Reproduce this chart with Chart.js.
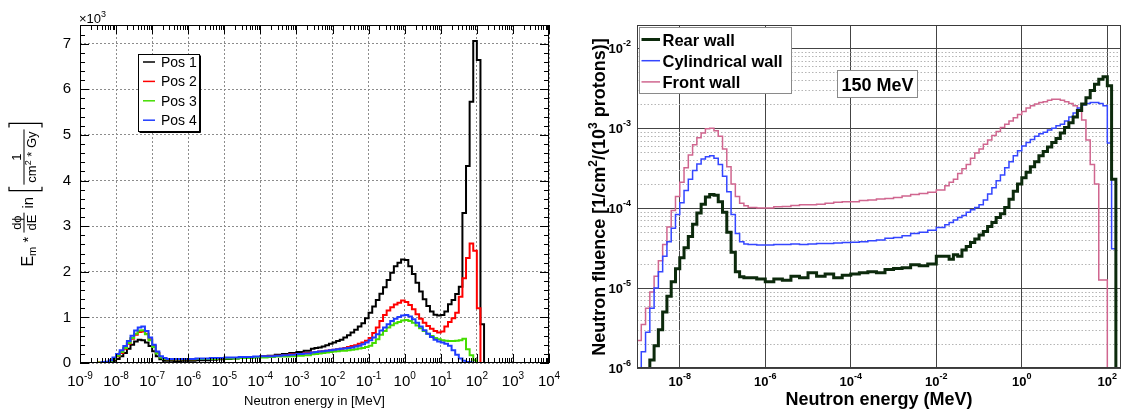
<!DOCTYPE html>
<html>
<head>
<meta charset="utf-8">
<script src="https://cdn.jsdelivr.net/npm/chart.js@4.4.1/dist/chart.umd.min.js"></script>
<style>
  html, body { margin: 0; padding: 0; background: #fff; }
  #wrap { position: relative; width: 1122px; height: 410px; overflow: hidden; }
  #leftChart { position: absolute; left: 0; top: 0; }
  #rightChart { position: absolute; left: 570px; top: 0; }
</style>
</head>
<body>
<div id="wrap">
  <canvas id="leftChart" width="570" height="410"></canvas>
  <canvas id="rightChart" width="552" height="410"></canvas>
</div>
<script>
const FONT = '"Liberation Sans", Arial, Helvetica, sans-serif';

// ---------- left panel: Em * dphi/dE per position (units of 10^3) ----------
// bin edges, as log10(E / MeV)
const LEFT_EDGES = [
  -9, -8.5,
  -8.4, -8.3, -8.2, -8.1, -8.0, -7.9, -7.8, -7.7, -7.6, -7.5,
  -7.4, -7.3, -7.2, -7.1, -7.0, -6.9, -6.8, -6.7, -6.6, -6.5,
  -6.4, -6.2, -6.0, -5.8, -5.6, -5.4, -5.2, -5.0, -4.8, -4.6,
  -4.4, -4.2, -4.0, -3.8, -3.6, -3.4, -3.2, -3.0, -2.8,
  -2.6, -2.5, -2.4, -2.3, -2.2, -2.1, -2.0, -1.9, -1.8, -1.7,
  -1.6, -1.5, -1.4, -1.3, -1.2, -1.1, -1.0, -0.9, -0.8, -0.7,
  -0.6, -0.5, -0.4, -0.3, -0.2, -0.1, 0.0, 0.1, 0.2, 0.3,
  0.4, 0.5, 0.6, 0.7, 0.8, 0.9, 1.0, 1.1, 1.2, 1.3,
  1.4, 1.5, 1.6, 1.7, 1.8, 1.9, 2.0, 2.1, 2.2, 4
];
const POS_LABELS = ['Pos 1', 'Pos 2', 'Pos 3', 'Pos 4'];
const POS1 = [
  0, 0,
  0.00, 0.01, 0.02, 0.05, 0.09, 0.15, 0.22, 0.31, 0.40, 0.47,
  0.51, 0.50, 0.45, 0.37, 0.26, 0.15, 0.08, 0.05, 0.05, 0.05,
  0.04, 0.05, 0.05, 0.06, 0.06, 0.07, 0.08, 0.09, 0.10, 0.11,
  0.12, 0.13, 0.15, 0.16, 0.18, 0.20, 0.22, 0.24, 0.27,
  0.31, 0.33, 0.34, 0.36, 0.39, 0.42, 0.45, 0.48, 0.51, 0.56,
  0.61, 0.67, 0.73, 0.80, 0.87, 0.98, 1.10, 1.24, 1.38, 1.52,
  1.66, 1.82, 1.98, 2.12, 2.20, 2.27, 2.26, 2.12, 1.95, 1.76,
  1.57, 1.40, 1.25, 1.13, 1.06, 1.04, 1.05, 1.13, 1.29, 1.38,
  1.51, 1.67, 3.29, 4.32, 5.73, 7.06, 6.64, 0.85, 0
];
const POS2 = [
  0, 0.01,
  0.01, 0.02, 0.04, 0.08, 0.15, 0.22, 0.31, 0.42, 0.53, 0.62,
  0.68, 0.69, 0.64, 0.52, 0.37, 0.22, 0.13, 0.09, 0.08, 0.08,
  0.08, 0.08, 0.08, 0.09, 0.09, 0.10, 0.10, 0.11, 0.11, 0.12,
  0.13, 0.13, 0.14, 0.15, 0.16, 0.17, 0.19, 0.20, 0.22,
  0.23, 0.24, 0.25, 0.26, 0.27, 0.28, 0.29, 0.30, 0.31, 0.33,
  0.35, 0.37, 0.39, 0.42, 0.45, 0.49, 0.55, 0.66, 0.78, 0.92,
  1.05, 1.15, 1.22, 1.28, 1.32, 1.37, 1.34, 1.27, 1.18, 1.07,
  0.97, 0.88, 0.81, 0.75, 0.70, 0.67, 0.69, 0.80, 0.90, 0.98,
  1.10, 1.45, 1.86, 2.30, 2.62, 2.46, 1.20, 0, 0
];
const POS3 = [
  0, 0.01,
  0.01, 0.02, 0.04, 0.09, 0.16, 0.24, 0.33, 0.44, 0.55, 0.64,
  0.71, 0.72, 0.63, 0.50, 0.35, 0.21, 0.12, 0.09, 0.08, 0.08,
  0.08, 0.08, 0.08, 0.09, 0.09, 0.09, 0.10, 0.10, 0.10, 0.11,
  0.11, 0.12, 0.12, 0.13, 0.14, 0.14, 0.15, 0.16, 0.17,
  0.19, 0.20, 0.21, 0.22, 0.23, 0.24, 0.25, 0.26, 0.27, 0.27,
  0.28, 0.29, 0.30, 0.32, 0.33, 0.35, 0.38, 0.44, 0.52, 0.62,
  0.70, 0.78, 0.83, 0.87, 0.90, 0.93, 0.94, 0.92, 0.88, 0.82,
  0.76, 0.70, 0.64, 0.59, 0.55, 0.52, 0.50, 0.49, 0.48, 0.48,
  0.49, 0.50, 0.53, 0.30, 0.17, 0.06, 0, 0, 0
];
const POS4 = [
  0, 0,
  0.02, 0.03, 0.06, 0.12, 0.20, 0.28, 0.37, 0.48, 0.60, 0.71,
  0.78, 0.80, 0.70, 0.56, 0.40, 0.25, 0.15, 0.11, 0.09, 0.09,
  0.09, 0.09, 0.09, 0.10, 0.10, 0.11, 0.11, 0.12, 0.12, 0.13,
  0.13, 0.14, 0.15, 0.15, 0.16, 0.17, 0.18, 0.20, 0.21,
  0.23, 0.24, 0.25, 0.26, 0.27, 0.28, 0.29, 0.30, 0.31, 0.32,
  0.33, 0.34, 0.36, 0.38, 0.41, 0.45, 0.50, 0.56, 0.63, 0.71,
  0.78, 0.85, 0.92, 0.97, 1.01, 1.04, 1.05, 1.02, 0.96, 0.88,
  0.80, 0.72, 0.64, 0.57, 0.51, 0.47, 0.45, 0.42, 0.38, 0.28,
  0.18, 0.10, 0.05, 0.02, 0.01, 0, 0, 0, 0
];
const LEFT_X_DECADES = [-9, -8, -7, -6, -5, -4, -3, -2, -1, 0, 1, 2, 3, 4];
const LEFT_Y_TICKS = [0, 1, 2, 3, 4, 5, 6, 7];

// ---------- right panel: neutron fluence per wall, 150 MeV ----------
const RIGHT_EDGES = [
  -9.0, -8.9, -8.8, -8.7, -8.6, -8.5, -8.4, -8.3, -8.2, -8.1,
  -8.0, -7.9, -7.8, -7.7, -7.6, -7.5, -7.4, -7.3, -7.2, -7.1,
  -7.0, -6.9, -6.8, -6.7, -6.6, -6.5, -6.4,
  -6.2, -6.0, -5.8, -5.6, -5.4, -5.2, -5.0, -4.8, -4.6, -4.4,
  -4.2, -4.0, -3.8, -3.6, -3.4, -3.2, -3.0, -2.8, -2.6, -2.4,
  -2.2, -2.0, -1.8,
  -1.7, -1.6, -1.5, -1.4, -1.3, -1.2, -1.1, -1.0, -0.9, -0.8,
  -0.7, -0.6, -0.5, -0.4, -0.3, -0.2, -0.1, 0.0, 0.1, 0.2,
  0.3, 0.4, 0.5, 0.6, 0.7, 0.8, 0.9, 1.0, 1.1, 1.2,
  1.3, 1.4, 1.5, 1.6, 1.7, 1.8, 1.9, 2.0, 2.1, 2.2,
  2.4
];
const WALL_LABELS = ['Rear wall', 'Cylindrical wall', 'Front wall'];
const REAR = [
  0, 3.2e-7, 8.9e-7, 1.26e-6, 1.9e-6, 3.0e-6, 5.0e-6, 7.9e-6, 1.2e-5, 1.74e-5,
  2.4e-5, 3.2e-5, 4.4e-5, 6.3e-5, 8.7e-5, 1.12e-4, 1.38e-4, 1.48e-4, 1.45e-4, 1.2e-4,
  8.9e-5, 5.0e-5, 2.8e-5, 1.6e-5, 1.38e-5, 1.35e-5,
  1.35e-5, 1.3e-5, 1.2e-5, 1.3e-5, 1.25e-5, 1.4e-5, 1.35e-5, 1.55e-5, 1.4e-5, 1.5e-5,
  1.35e-5, 1.45e-5, 1.5e-5, 1.55e-5, 1.6e-5, 1.55e-5, 1.7e-5, 1.75e-5, 1.8e-5, 1.95e-5,
  1.9e-5, 2.0e-5, 2.5e-5,
  2.5e-5, 2.3e-5, 2.6e-5, 2.5e-5, 3.0e-5, 3.3e-5, 3.7e-5, 4.1e-5, 4.6e-5, 5.1e-5,
  5.9e-5, 6.6e-5, 7.6e-5, 8.5e-5, 1.02e-4, 1.29e-4, 1.62e-4, 2.0e-4, 2.4e-4, 2.8e-4,
  3.3e-4, 3.8e-4, 4.5e-4, 5.1e-4, 5.8e-4, 6.6e-4, 7.4e-4, 8.7e-4, 1.02e-3, 1.17e-3,
  1.38e-3, 1.66e-3, 2.0e-3, 2.4e-3, 2.95e-3, 3.55e-3, 4.1e-3, 4.4e-3, 3.4e-3, 2.3e-4,
  0
];
const CYLINDRICAL = [
  6.3e-7, 1.6e-6, 2.8e-6, 5.6e-6, 1.0e-5, 1.6e-5, 2.5e-5, 3.8e-5, 5.6e-5, 8.3e-5,
  1.17e-4, 1.66e-4, 2.3e-4, 2.95e-4, 3.55e-4, 4.1e-4, 4.4e-4, 4.5e-4, 4.2e-4, 3.5e-4,
  2.5e-4, 1.6e-4, 8.3e-5, 4.8e-5, 3.8e-5, 3.55e-5,
  3.5e-5, 3.45e-5, 3.45e-5, 3.5e-5, 3.5e-5, 3.55e-5, 3.5e-5, 3.55e-5, 3.6e-5, 3.6e-5,
  3.65e-5, 3.7e-5, 3.75e-5, 3.8e-5, 3.9e-5, 4.0e-5, 4.2e-5, 4.3e-5, 4.5e-5, 4.8e-5,
  5.0e-5, 5.3e-5, 5.7e-5,
  6.2e-5, 6.6e-5, 7.1e-5, 7.6e-5, 8.1e-5, 8.9e-5, 9.5e-5, 1.02e-4, 1.1e-4, 1.26e-4,
  1.5e-4, 1.8e-4, 2.2e-4, 2.6e-4, 3.2e-4, 3.8e-4, 4.5e-4, 5.2e-4, 6.0e-4, 6.6e-4,
  7.2e-4, 7.9e-4, 8.5e-4, 8.9e-4, 9.5e-4, 1.0e-3, 1.07e-3, 1.12e-3, 1.23e-3, 1.38e-3,
  1.55e-3, 1.78e-3, 1.95e-3, 2.04e-3, 2.1e-3, 2.1e-3, 2.04e-3, 1.9e-3, 6.5e-4, 3.1e-5,
  0
];
const FRONT = [
  2.2e-6, 3.5e-6, 5.6e-6, 8.9e-6, 1.4e-5, 2.2e-5, 3.5e-5, 5.8e-5, 9.3e-5, 1.4e-4,
  2.1e-4, 3.2e-4, 4.6e-4, 6.2e-4, 7.6e-4, 8.7e-4, 9.8e-4, 1.0e-3, 9.3e-4, 7.9e-4,
  5.5e-4, 3.3e-4, 2.0e-4, 1.4e-4, 1.15e-4, 1.07e-4,
  1.02e-4, 1.0e-4, 1.0e-4, 1.04e-4, 1.05e-4, 1.08e-4, 1.1e-4, 1.1e-4, 1.12e-4, 1.15e-4,
  1.18e-4, 1.2e-4, 1.2e-4, 1.24e-4, 1.26e-4, 1.3e-4, 1.32e-4, 1.36e-4, 1.42e-4, 1.48e-4,
  1.52e-4, 1.58e-4, 1.68e-4,
  1.9e-4, 2.1e-4, 2.3e-4, 2.7e-4, 3.1e-4, 3.5e-4, 4.2e-4, 4.9e-4, 5.5e-4, 6.3e-4,
  7.1e-4, 8.1e-4, 9.1e-4, 1.02e-3, 1.12e-3, 1.23e-3, 1.35e-3, 1.48e-3, 1.62e-3, 1.78e-3,
  1.9e-3, 2.0e-3, 2.1e-3, 2.14e-3, 2.24e-3, 2.3e-3, 2.3e-3, 2.24e-3, 2.14e-3, 2.04e-3,
  1.9e-3, 1.7e-3, 1.26e-3, 7.1e-4, 3.5e-4, 2.0e-4, 1.26e-5, 1.26e-5, 0, 0,
  0
];
const RIGHT_X_DECADES = [-8, -6, -4, -2, 0, 2];
const RIGHT_Y_DECADES = [-6, -5, -4, -3, -2];

// histogram -> step points (left edge + value, plus closing point at the last edge)
// empty bins on a log axis are pushed far below the visible range
function histPoints(edges, vals, floor) {
  const fix = v => (floor && v <= 0 ? floor : v);
  const pts = vals.map((v, i) => ({ x: Math.pow(10, edges[i]), y: fix(v) }));
  pts.push({ x: Math.pow(10, edges[edges.length - 1]), y: fix(vals[vals.length - 1]) });
  return pts;
}

function drawPow(ctx, x, baseline, exp, bFont, sFont, rise, align) {
  ctx.font = bFont;
  const wb = ctx.measureText('10').width;
  ctx.font = sFont;
  const ws = ctx.measureText(exp).width;
  const x0 = align === 'right' ? x - wb - ws : x - (wb + ws) / 2;
  ctx.textAlign = 'left';
  ctx.textBaseline = 'alphabetic';
  ctx.font = bFont;
  ctx.fillText('10', x0, baseline);
  ctx.font = sFont;
  ctx.fillText(exp, x0 + wb, baseline - rise);
}

function runWidth(ctx, run) {
  return run.reduce((s, [t, f]) => { ctx.font = f; return s + ctx.measureText(t).width; }, 0);
}
function drawRun(ctx, run, x, baseline) {
  let p = x;
  run.forEach(([t, f, dy]) => {
    ctx.font = f;
    ctx.fillText(t, p, baseline + (dy || 0));
    p += ctx.measureText(t).width;
  });
}

// ---------- left chart decorations (ROOT-like frame, ticks, labels, legend) ----------
const leftDecor = {
  id: 'leftDecor',
  afterDatasetsDraw(chart) {
    const { ctx, chartArea: a, scales: { x, y } } = chart;
    ctx.save();
    ctx.strokeStyle = '#000';
    ctx.lineWidth = 1;
    ctx.strokeRect(a.left + 0.5, a.top + 0.5, a.right - a.left - 1, a.bottom - a.top - 1);

    ctx.beginPath();
    const seg = (x1, y1, x2, y2) => { ctx.moveTo(x1, y1); ctx.lineTo(x2, y2); };
    LEFT_X_DECADES.forEach((e, i) => {
      const px = Math.round(x.getPixelForValue(Math.pow(10, e))) + 0.5;
      seg(px, a.bottom, px, a.bottom - 9);
      seg(px, a.top, px, a.top + 9);
      if (i < LEFT_X_DECADES.length - 1) {
        for (let k = 2; k <= 9; k++) {
          const p = Math.round(x.getPixelForValue(k * Math.pow(10, e))) + 0.5;
          seg(p, a.bottom, p, a.bottom - 5);
          seg(p, a.top, p, a.top + 5);
        }
      }
    });
    for (let i = 0; i <= 37; i++) {
      const py = Math.round(y.getPixelForValue(i / 5)) + 0.5;
      const len = i % 5 === 0 ? 9 : 5;
      seg(a.left, py, a.left + len, py);
      seg(a.right, py, a.right - len, py);
    }
    ctx.stroke();

    // x tick labels 10^n
    ctx.fillStyle = '#000';
    LEFT_X_DECADES.forEach(e => {
      const px = x.getPixelForValue(Math.pow(10, e));
      drawPow(ctx, px, 386, String(e), '15px ' + FONT, '10px ' + FONT, 7, 'center');
    });

    // x10^3 multiplier
    ctx.textAlign = 'left';
    ctx.font = '13px ' + FONT;
    ctx.fillText('\u00d710', 79, 23);
    const wm = ctx.measureText('\u00d710').width;
    ctx.font = '9px ' + FONT;
    ctx.fillText('3', 79 + wm, 17);

    // x title
    ctx.font = '13px ' + FONT;
    ctx.textAlign = 'center';
    ctx.fillText('Neutron energy in [MeV]', (a.left + a.right) / 2, 405);

    // y title, rotated:  E_m * dphi/dE  in [ 1 / (cm^2 * Gy) ]
    ctx.save();
    ctx.rotate(-Math.PI / 2);
    ctx.textAlign = 'left';
    const base = 33, bar = 24;
    const pieces = [];
    const txt = (s, size, dy) => {
      const f = size + 'px ' + FONT;
      ctx.font = f;
      const w = ctx.measureText(s).width;
      pieces.push({ w, draw: u => { ctx.font = f; ctx.fillText(s, u, base + (dy || 0)); } });
    };
    const frac = (num, den) => {
      const wn = runWidth(ctx, num), wd = runWidth(ctx, den);
      const w = Math.max(wn, wd) + 4;
      pieces.push({ w, draw: u => {
        drawRun(ctx, num, u + (w - wn) / 2, bar - 3);
        drawRun(ctx, den, u + (w - wd) / 2, bar + 12);
        ctx.fillRect(u, bar - 0.5, w, 1);
      } });
    };
    const bracket = open => pieces.push({ w: 8, draw: u => {
      ctx.beginPath();
      const xs = open ? u + 2 : u + 6, xe = open ? u + 6 : u + 2;
      ctx.moveTo(xe, 9); ctx.lineTo(xs, 9); ctx.lineTo(xs, 42); ctx.lineTo(xe, 42);
      ctx.lineWidth = 1.2;
      ctx.stroke();
    } });
    const f13 = '13px ' + FONT, f9 = '9px ' + FONT;
    txt('E', 16);
    txt('m', 11, 3);
    txt(' * ', 15);
    frac([['d\u03d5', f13]], [['dE', f13]]);
    txt(' in ', 15);
    bracket(true);
    frac([['1', f13]], [['cm', f13], ['2', f9, -5], [' * Gy', f13]]);
    bracket(false);
    const total = pieces.reduce((s, p) => s + p.w, 0);
    let u = -194 - total / 2;
    pieces.forEach(p => { p.draw(u); u += p.w; });
    ctx.restore();

    // legend box
    const L = { x: 138.5, y: 54.5, w: 61, h: 77 };
    ctx.fillStyle = '#fff';
    ctx.fillRect(L.x, L.y, L.w, L.h);
    ctx.strokeStyle = '#000';
    ctx.lineWidth = 1;
    ctx.strokeRect(L.x, L.y, L.w, L.h);
    ctx.beginPath();
    ctx.moveTo(L.x + 1, L.y + L.h + 1); ctx.lineTo(L.x + L.w + 1, L.y + L.h + 1); ctx.lineTo(L.x + L.w + 1, L.y + 1);
    ctx.stroke();
    ctx.textAlign = 'left';
    ctx.font = '14px ' + FONT;
    chart.data.datasets.forEach((ds, i) => {
      const cy = 62 + i * 19.4;
      ctx.strokeStyle = ds.borderColor;
      ctx.lineWidth = 1.5;
      ctx.beginPath(); ctx.moveTo(143, cy); ctx.lineTo(155, cy); ctx.stroke();
      ctx.fillStyle = '#000';
      ctx.fillText(ds.label, 161, cy + 5);
    });
    ctx.restore();
  }
};

Chart.defaults.font.family = FONT;

new Chart(document.getElementById('leftChart'), {
  type: 'line',
  data: {
    datasets: [
      { label: POS_LABELS[0], data: histPoints(LEFT_EDGES, POS1), borderColor: '#000000', order: 4 },
      { label: POS_LABELS[1], data: histPoints(LEFT_EDGES, POS2), borderColor: '#ff0000', order: 3 },
      { label: POS_LABELS[2], data: histPoints(LEFT_EDGES, POS3), borderColor: '#44dd00', order: 2 },
      { label: POS_LABELS[3], data: histPoints(LEFT_EDGES, POS4), borderColor: '#1f3cff', order: 1 }
    ].map(ds => Object.assign(ds, {
      stepped: 'before', borderWidth: 2, pointRadius: 0, fill: false, borderJoinStyle: 'miter'
    }))
  },
  options: {
    responsive: false,
    animation: false,
    devicePixelRatio: 1,
    events: [],
    layout: { padding: { left: 0, top: 25, right: 21, bottom: 0 } },
    plugins: { legend: { display: false }, tooltip: { enabled: false } },
    scales: {
      x: {
        type: 'logarithmic',
        min: 1e-9,
        max: 1e4,
        afterBuildTicks: s => { s.ticks = LEFT_X_DECADES.map(e => ({ value: Math.pow(10, e) })); },
        afterFit: s => { s.height = 47; },
        ticks: { display: false },
        grid: { color: '#8c8c8c', lineWidth: 1, drawTicks: false },
        border: { display: false, dash: [2, 2] }
      },
      y: {
        type: 'linear',
        min: 0,
        max: 7.41,
        afterBuildTicks: s => { s.ticks = LEFT_Y_TICKS.map(v => ({ value: v })); },
        afterFit: s => { s.width = 80; },
        ticks: { color: '#000', font: { size: 15 }, padding: 9, callback: v => String(v) },
        grid: { color: '#8c8c8c', lineWidth: 1, drawTicks: false },
        border: { display: false, dash: [2, 2] }
      }
    }
  },
  plugins: [leftDecor]
});

// ---------- right chart decorations ----------
const rightDecor = {
  id: 'rightDecor',
  beforeDatasetsDraw(chart) {
    const { ctx, chartArea: a, scales: { y } } = chart;
    ctx.save();
    ctx.strokeStyle = '#b5b5b5';
    ctx.lineWidth = 1;
    ctx.setLineDash([1.5, 2]);
    ctx.beginPath();
    RIGHT_Y_DECADES.forEach(d => {
      for (let k = 2; k <= 9; k++) {
        const py = Math.round(y.getPixelForValue(k * Math.pow(10, d))) + 0.5;
        if (py < a.top) continue;
        ctx.moveTo(a.left, py); ctx.lineTo(a.right, py);
      }
    });
    ctx.stroke();
    ctx.restore();
  },
  afterDatasetsDraw(chart) {
    const { ctx, chartArea: a, scales: { x, y } } = chart;
    ctx.save();
    ctx.strokeStyle = '#3a3a3a';
    ctx.lineWidth = 1;
    ctx.strokeRect(a.left + 0.5, a.top + 0.5, a.right - a.left - 1, a.bottom - a.top - 1);

    ctx.fillStyle = '#000';
    const bF = 'bold 13px ' + FONT, sF = 'bold 9px ' + FONT;
    RIGHT_X_DECADES.forEach(e => {
      drawPow(ctx, x.getPixelForValue(Math.pow(10, e)), 386, String(e), bF, sF, 7, 'center');
    });
    RIGHT_Y_DECADES.forEach(e => {
      drawPow(ctx, a.left - 6, y.getPixelForValue(Math.pow(10, e)) + 5, String(e), bF, sF, 7, 'right');
    });

    // x title
    ctx.font = 'bold 18px ' + FONT;
    ctx.textAlign = 'center';
    ctx.fillText('Neutron energy (MeV)', (a.left + a.right) / 2, 405);

    // y title, rotated
    ctx.save();
    ctx.translate(35, 197);
    ctx.rotate(-Math.PI / 2);
    ctx.textAlign = 'left';
    const t17 = 'bold 18px ' + FONT, t12 = 'bold 12px ' + FONT;
    const run = [
      ['Neutron fluence [1/cm', t17], ['2', t12, -8], ['/(10', t17], ['3', t12, -8], [' protons)]', t17]
    ];
    drawRun(ctx, run, -runWidth(ctx, run) / 2, 0);
    ctx.restore();

    // legend
    ctx.fillStyle = '#fff';
    ctx.fillRect(69.5, 27.5, 152, 66);
    ctx.strokeStyle = '#8a8a8a';
    ctx.strokeRect(69.5, 27.5, 152, 66);
    ctx.textAlign = 'left';
    ctx.font = 'bold 16.5px ' + FONT;
    chart.data.datasets.forEach((ds, i) => {
      const cy = 39.5 + i * 21.2;
      ctx.strokeStyle = ds.borderColor;
      ctx.lineWidth = ds.borderWidth;
      ctx.beginPath(); ctx.moveTo(71.5, cy); ctx.lineTo(90, cy); ctx.stroke();
      ctx.fillStyle = '#000';
      ctx.fillText(ds.label, 92.5, cy + 6);
    });

    // energy tag
    ctx.fillStyle = '#fff';
    ctx.fillRect(267.5, 70.5, 80, 27);
    ctx.strokeStyle = '#8a8a8a';
    ctx.lineWidth = 1;
    ctx.strokeRect(267.5, 70.5, 80, 27);
    ctx.fillStyle = '#000';
    ctx.textAlign = 'center';
    ctx.font = 'bold 18px ' + FONT;
    ctx.fillText('150 MeV', 307.5, 90.5);
    ctx.restore();
  }
};

const FLOOR = 1e-12;
new Chart(document.getElementById('rightChart'), {
  type: 'line',
  data: {
    datasets: [
      { label: WALL_LABELS[0], data: histPoints(RIGHT_EDGES, REAR, FLOOR), borderColor: '#0c2a0c', borderWidth: 3, order: 1 },
      { label: WALL_LABELS[1], data: histPoints(RIGHT_EDGES, CYLINDRICAL, FLOOR), borderColor: '#3446ff', borderWidth: 1.5, order: 2 },
      { label: WALL_LABELS[2], data: histPoints(RIGHT_EDGES, FRONT, FLOOR), borderColor: '#d0668f', borderWidth: 1.5, order: 3 }
    ].map(ds => Object.assign(ds, {
      stepped: 'before', pointRadius: 0, fill: false, borderJoinStyle: 'miter'
    }))
  },
  options: {
    responsive: false,
    animation: false,
    devicePixelRatio: 1,
    events: [],
    layout: { padding: { left: 0, top: 25, right: 1, bottom: 0 } },
    plugins: { legend: { display: false }, tooltip: { enabled: false } },
    scales: {
      x: {
        type: 'logarithmic',
        min: 1e-9,
        max: Math.pow(10, 2.32),
        afterBuildTicks: s => { s.ticks = RIGHT_X_DECADES.map(e => ({ value: Math.pow(10, e) })); },
        afterFit: s => { s.height = 42; },
        ticks: { display: false },
        grid: { color: '#444', lineWidth: 1, drawTicks: false },
        border: { display: false }
      },
      y: {
        type: 'logarithmic',
        min: 1e-6,
        max: Math.pow(10, -1.71),
        afterBuildTicks: s => { s.ticks = RIGHT_Y_DECADES.map(e => ({ value: Math.pow(10, e) })); },
        afterFit: s => { s.width = 67; },
        ticks: { display: false },
        grid: { color: '#444', lineWidth: 1, drawTicks: false },
        border: { display: false }
      }
    }
  },
  plugins: [rightDecor]
});
</script>
</body>
</html>
